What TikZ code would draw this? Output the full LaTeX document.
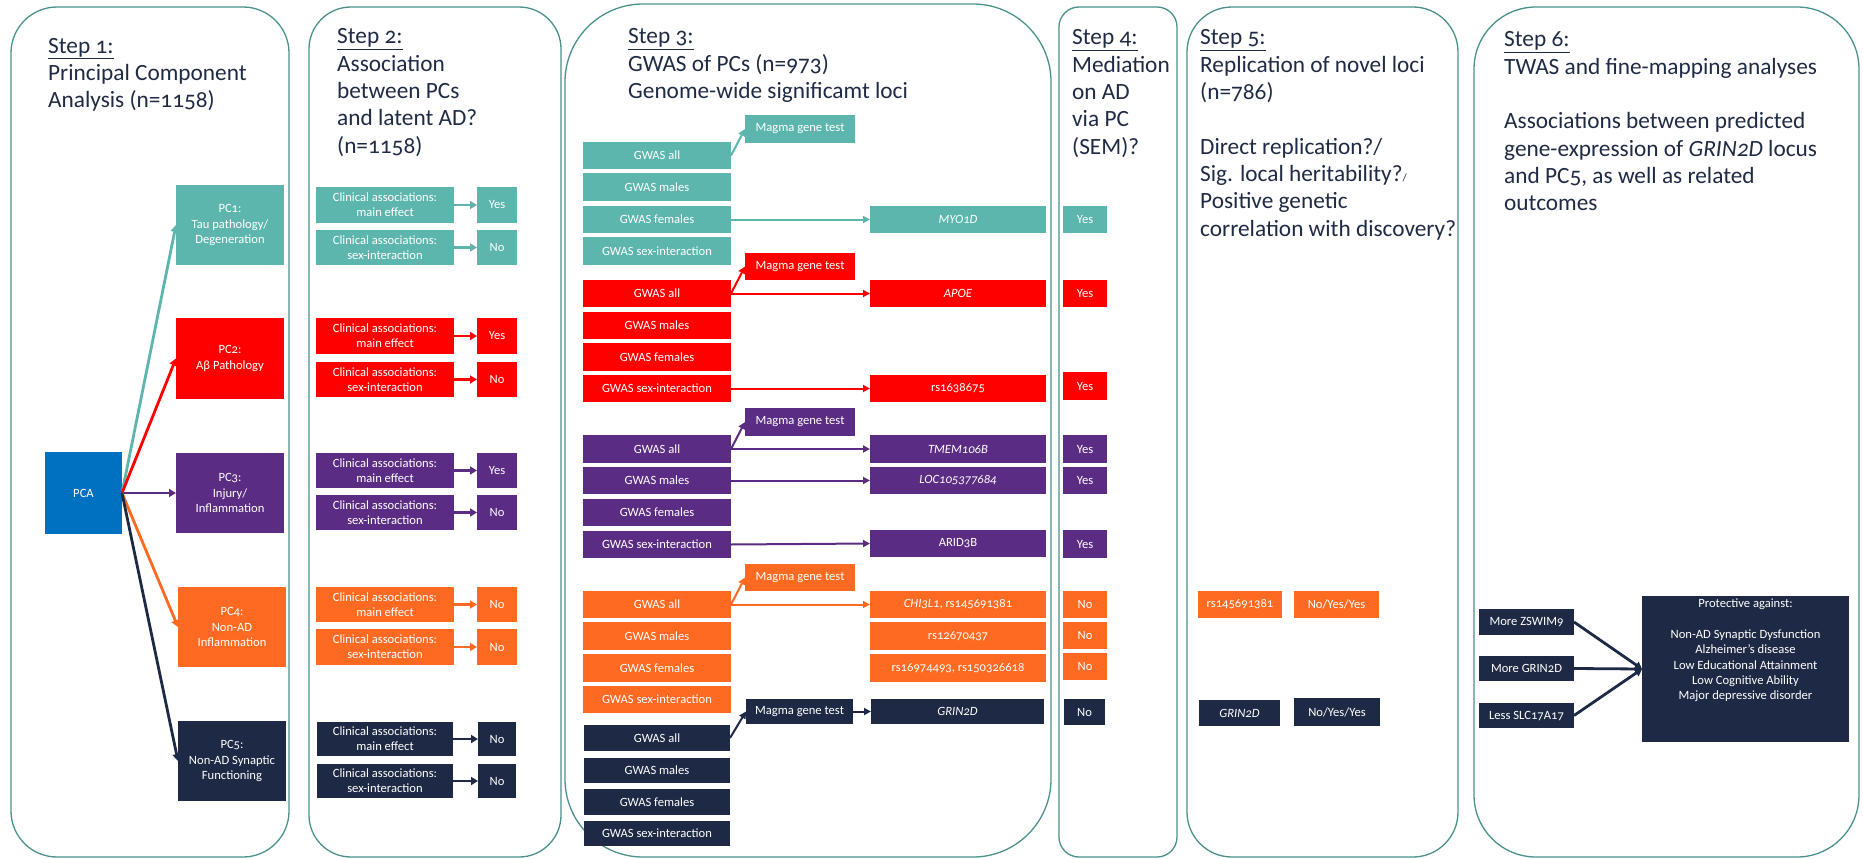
\documentclass[tikz,border=0pt]{standalone}
\usepackage{fontspec}
\setmainfont{Carlito}[Numbers=OldStyle]
\usetikzlibrary{arrows.meta}
\definecolor{cteal}{HTML}{5DB6AD}
\definecolor{cred}{HTML}{FF0000}
\definecolor{cpurple}{HTML}{5B2C83}
\definecolor{corange}{HTML}{FF6A22}
\definecolor{cnavy}{HTML}{1E2A45}
\definecolor{cblue}{HTML}{0070C0}
\definecolor{cpanel}{HTML}{4A918B}
\definecolor{ctext}{HTML}{1F2A44}
\newcommand\tfont{\fontsize{23.3}{27.3}\selectfont}
\newcommand\sfont{\fontsize{12.6}{15.3}\selectfont}
\newcommand\bx[7]{\node[bx,fill=#6,minimum width={#4-#2},minimum height={#5-#3}] (#1) at ({(#2+#4)/2},{(#3+#5)/2}) {#7};}
\newcommand\ttl[4]{\node[anchor=base west,inner sep=0,text=ctext,font=\tfont] (#1) at (#2,#3) {\parbox[t]{380pt}{\raggedright #4}};}
\tikzset{
  bx/.style={inner sep=0pt,outer sep=0pt,align=center,text=white,font=\sfont},
  panel/.style={draw=cpanel,line width=1.3pt},
  arr/.style={draw=#1,line width=2.8pt,-{Triangle[length=7pt,width=8pt]}},
  arrt/.style={draw=#1,line width=2pt,-{Triangle[length=7pt,width=7pt]}},
}
\begin{document}
\begin{tikzpicture}[x=1pt,y=-1pt]
\useasboundingbox (0,0) rectangle (1863,859);
% panels
\draw[panel,rounded corners=46pt] (11,7) rectangle (289,857);
\draw[panel,rounded corners=42pt] (309,7) rectangle (561,857);
\draw[panel,rounded corners=78pt] (565,4) rectangle (1051,857);
\draw[panel,rounded corners=20pt] (1059,7) rectangle (1177,857);
\draw[panel,rounded corners=45pt] (1187,7) rectangle (1458,857);
\draw[panel,rounded corners=62pt] (1474,7) rectangle (1859,857);
% titles
\ttl{t1}{48}{53}{\underline{Step 1:}\\Principal Component\\Analysis (n=1158)}
\ttl{t2}{337}{44}{\underline{Step 2:}\\Association\\between PCs\\and latent AD?\\(n=1158)}
\ttl{t3}{628}{44}{\underline{Step 3:}\\GWAS of PCs (n=973)\\Genome-wide significamt loci}
\ttl{t4}{1072}{45}{\underline{Step 4:}\\Mediation\\on AD\\via PC\\(SEM)?}
\ttl{t5}{1200}{45}{\underline{Step 5:}\\Replication of novel loci\\(n=786)\\[27.3pt]Direct replication?/\\Sig. local heritability?{\fontsize{11}{12}\selectfont/}\\Positive genetic\\correlation with discovery?}
\ttl{t6}{1504}{47}{\underline{Step 6:}\\TWAS and fine-mapping analyses\\[27.3pt]Associations between predicted\\gene-expression of \textit{GRIN2D} locus\\and PC5, as well as related\\outcomes}
% step 1
\bx{pca}{45}{452}{122}{534}{cblue}{PCA}
\bx{pc1}{176}{185}{284}{265}{cteal}{PC1:\\Tau pathology/\\Degeneration}
\bx{pc2}{176}{318}{284}{399}{cred}{PC2:\\Aβ Pathology}
\bx{pc3}{176}{453}{284}{533}{cpurple}{PC3:\\Injury/\\Inflammation}
\bx{pc4}{178}{587}{286}{667}{corange}{PC4:\\Non-AD\\Inflammation}
\bx{pc5}{178}{721}{286}{801}{cnavy}{PC5:\\Non-AD Synaptic\\Functioning}
\draw[arr=cteal] (pca.east) -- (pc1.west);
\draw[arr=cred] (pca.east) -- (pc2.west);
\draw[arr=cpurple] (pca.east) -- (pc3.west);
\draw[arr=corange] (pca.east) -- (pc4.west);
\draw[arr=cnavy] (pca.east) -- (pc5.west);
% step 2
\bx{c1m}{316}{187}{454}{223}{cteal}{Clinical associations:\\main effect}
\bx{r1m}{477}{187}{517}{223}{cteal}{Yes}
\bx{c1s}{316}{230}{454}{265}{cteal}{Clinical associations:\\sex-interaction}
\bx{r1s}{477}{230}{517}{265}{cteal}{No}
\bx{c2m}{316}{318}{454}{354}{cred}{Clinical associations:\\main effect}
\bx{r2m}{477}{318}{517}{354}{cred}{Yes}
\bx{c2s}{316}{362}{454}{397}{cred}{Clinical associations:\\sex-interaction}
\bx{r2s}{477}{362}{517}{397}{cred}{No}
\bx{c3m}{316}{453}{454}{488}{cpurple}{Clinical associations:\\main effect}
\bx{r3m}{477}{453}{517}{488}{cpurple}{Yes}
\bx{c3s}{316}{495}{454}{530}{cpurple}{Clinical associations:\\sex-interaction}
\bx{r3s}{477}{495}{517}{530}{cpurple}{No}
\bx{c4m}{316}{587}{454}{622}{corange}{Clinical associations:\\main effect}
\bx{r4m}{477}{587}{517}{622}{corange}{No}
\bx{c4s}{316}{629}{454}{665}{corange}{Clinical associations:\\sex-interaction}
\bx{r4s}{477}{629}{517}{665}{corange}{No}
\bx{c5m}{317}{722}{453}{756}{cnavy}{Clinical associations:\\main effect}
\bx{r5m}{478}{722}{516}{756}{cnavy}{No}
\bx{c5s}{317}{764}{453}{798}{cnavy}{Clinical associations:\\sex-interaction}
\bx{r5s}{478}{764}{516}{798}{cnavy}{No}
\foreach \n/\c in {1/cteal,2/cred,3/cpurple,4/corange,5/cnavy}{
  \draw[arr=\c] (c\n m.east) -- (r\n m.west);
  \draw[arr=\c] (c\n s.east) -- (r\n s.west);
}
% step 3 teal
\bx{g1mg}{745}{115}{855}{143}{cteal}{Magma gene test}
\bx{g1a}{583}{142}{731}{169}{cteal}{GWAS all}
\bx{g1m}{583}{173}{731}{201}{cteal}{GWAS males}
\bx{g1f}{583}{206}{731}{233}{cteal}{GWAS females}
\bx{g1s}{583}{237}{731}{265}{cteal}{GWAS sex-interaction}
\bx{g1r}{870}{206}{1046}{233}{cteal}{\textit{MYO1D}}
\draw[arrt=cteal] (g1a.east) -- (g1mg.west);
\draw[arrt=cteal] (g1f.east) -- (g1r.west);
% red
\bx{g2mg}{745}{253}{855}{280}{cred}{Magma gene test}
\bx{g2a}{583}{280}{731}{307}{cred}{GWAS all}
\bx{g2ar}{870}{280}{1046}{307}{cred}{\textit{APOE}}
\bx{g2m}{583}{312}{731}{339}{cred}{GWAS males}
\bx{g2f}{583}{343}{731}{371}{cred}{GWAS females}
\bx{g2s}{583}{375}{731}{402}{cred}{GWAS sex-interaction}
\bx{g2sr}{870}{375}{1046}{402}{cred}{rs1638675}
\draw[arrt=cred] (g2a.east) -- (g2mg.west);
\draw[arrt=cred] (g2a.east) -- (g2ar.west);
\draw[arrt=cred] (g2s.east) -- (g2sr.west);
% purple
\bx{g3mg}{745}{408}{855}{436}{cpurple}{Magma gene test}
\bx{g3a}{583}{435}{731}{463}{cpurple}{GWAS all}
\bx{g3ar}{870}{435}{1046}{463}{cpurple}{\textit{TMEM106B}}
\bx{g3m}{583}{467}{731}{494}{cpurple}{GWAS males}
\bx{g3mr}{870}{467}{1046}{494}{cpurple}{\textit{LOC105377684}}
\bx{g3f}{583}{499}{731}{526}{cpurple}{GWAS females}
\bx{g3s}{583}{531}{731}{558}{cpurple}{GWAS sex-interaction}
\bx{g3sr}{870}{530}{1046}{557}{cpurple}{ARID3B}
\draw[arrt=cpurple] (g3a.east) -- (g3mg.west);
\draw[arrt=cpurple] (g3a.east) -- (g3ar.west);
\draw[arrt=cpurple] (g3m.east) -- (g3mr.west);
\draw[arrt=cpurple] (g3s.east) -- (g3sr.west);
% orange
\bx{g4mg}{745}{564}{855}{591}{corange}{Magma gene test}
\bx{g4a}{583}{591}{731}{618}{corange}{GWAS all}
\bx{g4ar}{870}{591}{1046}{618}{corange}{\textit{CHI3L1}, rs145691381}
\bx{g4m}{583}{622}{731}{650}{corange}{GWAS males}
\bx{g4mr}{870}{622}{1046}{650}{corange}{rs12670437}
\bx{g4f}{583}{654}{731}{682}{corange}{GWAS females}
\bx{g4fr}{870}{654}{1046}{682}{corange}{rs16974493, rs150326618}
\bx{g4s}{583}{686}{731}{713}{corange}{GWAS sex-interaction}
\draw[arrt=corange] (g4a.east) -- (g4mg.west);
\draw[arrt=corange] (g4a.east) -- (g4ar.west);
% navy
\bx{g5mg}{746}{699}{853}{724}{cnavy}{Magma gene test}
\bx{g5r}{871}{699}{1044}{724}{cnavy}{\textit{GRIN2D}}
\bx{g5a}{584}{725}{730}{751}{cnavy}{GWAS all}
\bx{g5m}{584}{758}{730}{783}{cnavy}{GWAS males}
\bx{g5f}{584}{789}{730}{815}{cnavy}{GWAS females}
\bx{g5s}{584}{821}{730}{846}{cnavy}{GWAS sex-interaction}
\draw[arrt=cnavy] (g5a.east) -- (g5mg.west);
\draw[arrt=cnavy] (g5mg.east) -- (g5r.west);
% step 4
\bx{m1}{1063}{206}{1107}{233}{cteal}{Yes}
\bx{m2}{1063}{280}{1107}{307}{cred}{Yes}
\bx{m3}{1063}{372}{1107}{400}{cred}{Yes}
\bx{m4}{1063}{435}{1107}{463}{cpurple}{Yes}
\bx{m5}{1063}{467}{1107}{494}{cpurple}{Yes}
\bx{m6}{1063}{530}{1107}{558}{cpurple}{Yes}
\bx{m7}{1063}{591}{1107}{618}{corange}{No}
\bx{m8}{1063}{622}{1107}{649}{corange}{No}
\bx{m9}{1063}{653}{1107}{680}{corange}{No}
\bx{m10}{1064}{699}{1105}{725}{cnavy}{No}
% step 5
\bx{s1}{1198}{591}{1282}{618}{corange}{rs145691381}
\bx{s2}{1294}{591}{1379}{618}{corange}{No/Yes/Yes}
\bx{s3}{1199}{700}{1280}{726}{cnavy}{\textit{GRIN2D}}
\bx{s4}{1294}{698}{1380}{726}{cnavy}{No/Yes/Yes}
% step 6
\bx{e1}{1479}{609}{1574}{635}{cnavy}{More ZSWIM9}
\bx{e2}{1479}{656}{1574}{681}{cnavy}{More GRIN2D}
\bx{e3}{1479}{703}{1574}{728}{cnavy}{Less SLC17A17}
\bx{prot}{1642}{596}{1849}{742}{cnavy}{}
\node[anchor=north,inner sep=0,align=center,text=white,font=\sfont] (prottext) at (1745.5,599) {Protective against:\\[15.3pt]Non-AD Synaptic Dysfunction\\Alzheimer’s disease\\Low Educational Attainment\\Low Cognitive Ability\\Major depressive disorder};
\draw[arr=cnavy] (e1.east) -- (prot.west);
\draw[arr=cnavy] (e2.east) -- (prot.west);
\draw[arr=cnavy] (e3.east) -- (prot.west);
\end{tikzpicture}
\end{document}
